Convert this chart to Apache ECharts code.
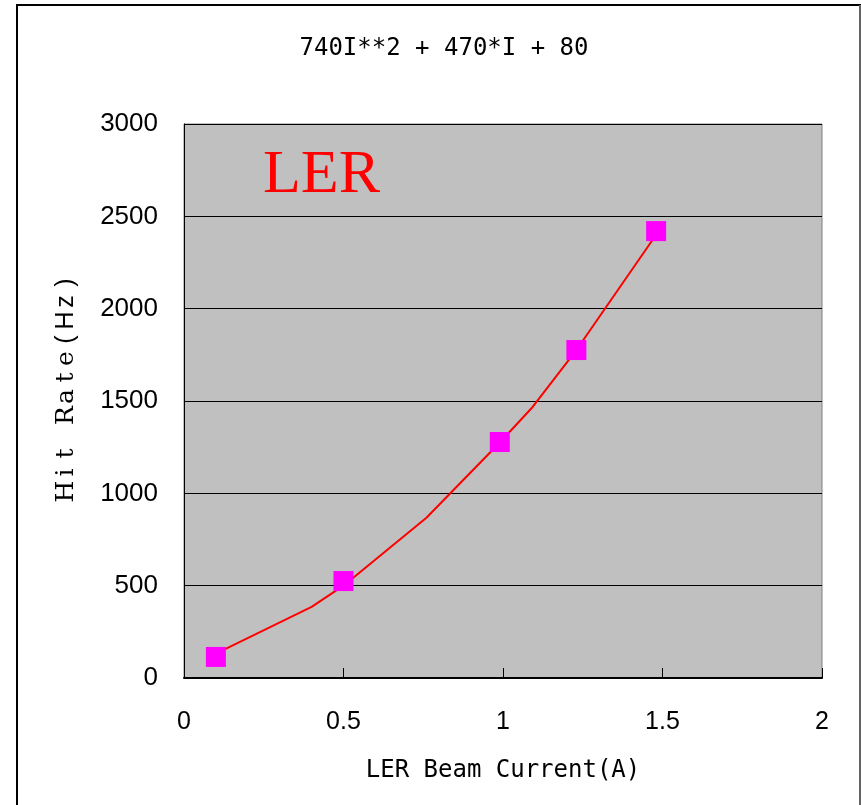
<!DOCTYPE html>
<html>
<head>
<meta charset="utf-8">
<script src="https://cdn.jsdelivr.net/npm/echarts@6/dist/echarts.min.js"></script>
<style>
html,body{margin:0;padding:0;background:#fff;}
#c{width:861px;height:805px;}
</style>
</head>
<body>
<div id="c"></div>
<script>
// Measured data points (LER beam current, hit rate)
var currents = [0.10, 0.50, 0.99, 1.23, 1.48];
var hitRates = [114, 525, 1278, 1776, 2420];
// Fitted curve vertices
var fitX = [0.10, 0.40, 0.50, 0.76, 0.99, 1.09, 1.23, 1.48];
var fitY = [132, 385, 500, 868, 1275, 1462, 1776, 2400];
var xTicks = [0, 0.5, 1, 1.5, 2];
var yTicks = [0, 500, 1000, 1500, 2000, 2500, 3000];
var titleText = '740I**2 + 470*I + 80';
var xName = 'LER Beam Current(A)';
var yNameSerif = 'Hit Rate';
var yNameSans = '(Hz)';
var tagText = 'LER';

var pts = currents.map(function(x, i){ return [x, hitRates[i]]; });
var fit = fitX.map(function(x, i){ return [x, fitY[i]]; });

// y-axis name: each character in a fixed-width cell (monospaced look)
function cells(str, style){
  return str.split('').map(function(ch){ return '{' + style + '|' + ch + '}'; }).join('');
}
var yNameRich = cells(yNameSerif, 's') + cells(yNameSans, 'g');

var chart = echarts.init(document.getElementById('c'), null, {renderer:'canvas'});
var monoFont = '"DejaVu Sans Mono", "Liberation Mono", monospace';
var sansFont = '"Liberation Sans", Arial, sans-serif';
chart.setOption({
  animation: false,
  backgroundColor: '#ffffff',
  title: {
    text: titleText,
    left: 439, top: 32, textAlign: 'center',
    textStyle: {fontFamily: monoFont, fontSize: 24, fontWeight: 'normal', color: '#000'}
  },
  grid: {
    left: 184, top: 124, width: 638, height: 554,
    show: true, backgroundColor: '#c0c0c0', borderColor: '#808080', borderWidth: 1
  },
  xAxis: {
    type: 'value', min: 0, max: 2, interval: 0.5,
    name: xName, nameLocation: 'middle', nameGap: 81,
    nameTextStyle: {fontFamily: monoFont, fontSize: 24, color: '#000'},
    axisLine: {show: true, onZero: false, lineStyle: {color: '#000', width: 2}},
    axisTick: {show: true, inside: true, length: 10, lineStyle: {color: '#000', width: 1}},
    axisLabel: {fontFamily: sansFont, fontSize: 25, color: '#000', margin: 32,
      formatter: function(v){ return String(v); }},
    splitLine: {show: false}
  },
  yAxis: {
    type: 'value', min: 0, max: 3000, interval: 500,
    axisLine: {show: true, lineStyle: {color: '#000', width: 1}},
    axisTick: {show: true, inside: true, length: 10, lineStyle: {color: '#000'}},
    axisLabel: {fontFamily: sansFont, fontSize: 26, color: '#000', margin: 26,
      formatter: function(v){ return String(v); }},
    splitLine: {show: true, lineStyle: {color: '#000', width: 1}}
  },
  graphic: [
    {type: 'rect', shape: {x: 17, y: 5, width: 843, height: 810},
     style: {fill: 'none', stroke: '#000', lineWidth: 2}, z: 100},
    {type: 'line', shape: {x1: 860, y1: 5, x2: 860, y2: 805},
     style: {stroke: '#c8c8c8', lineWidth: 1}, z: 101},
    {type: 'text', left: 263, top: 145, z: 50,
     style: {text: tagText, fill: '#ff0000', font: '62px "Liberation Serif", "Times New Roman", serif'}},
    {type: 'text', x: 66, y: 387, rotation: Math.PI/2, z: 50,
     style: {
       text: yNameRich,
       align: 'center', verticalAlign: 'middle',
       rich: {
         s: {fontFamily: '"DejaVu Serif", "Liberation Serif", serif', fontSize: 25, fill: '#000', width: 19, align: 'center'},
         g: {fontFamily: sansFont, fontSize: 25, fill: '#000', width: 19, align: 'center'}
       }
     }}
  ],
  series: [
    {type: 'line', data: fit, showSymbol: false, symbol: 'none', smooth: false,
     lineStyle: {color: '#ff0000', width: 2}, z: 2},
    {type: 'scatter', data: pts, symbol: 'rect', symbolSize: 20,
     itemStyle: {color: '#ff00ff', opacity: 1}, z: 3}
  ]
});
</script>
</body>
</html>
